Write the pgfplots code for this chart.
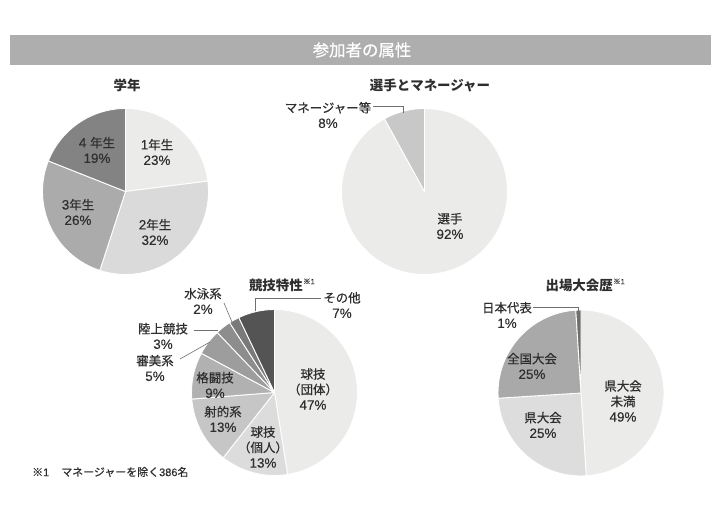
\documentclass[border=0pt]{standalone}
\usepackage{fontspec}
\setmainfont{Noto Sans CJK JP}
\newfontfamily\jplab{Noto Sans CJK JP}[FakeBold=0.5]
\newfontfamily\latlab{Liberation Sans}[FakeBold=0.3]
\usepackage{pgfplots}
\usepackage{pgfplotstable}
\pgfplotsset{compat=1.18}

\definecolor{barbg}{HTML}{ADAEAD}
\definecolor{pA}{HTML}{EBEBEA}
\definecolor{gB}{HTML}{DADADA}
\definecolor{gC}{HTML}{ABABAB}
\definecolor{gD}{HTML}{838383}
\definecolor{mB}{HTML}{C8C8C8}
\definecolor{kB}{HTML}{DCDCDC}
\definecolor{kC}{HTML}{C6C6C6}
\definecolor{kD}{HTML}{B1B1B1}
\definecolor{kE}{HTML}{9D9D9D}
\definecolor{kF}{HTML}{8D8D8D}
\definecolor{kG}{HTML}{7A7A7A}
\definecolor{kH}{HTML}{545454}
\definecolor{sB}{HTML}{DDDDDD}
\definecolor{sC}{HTML}{A9A9A9}
\definecolor{sD}{HTML}{6F6F6F}
\definecolor{leader}{HTML}{707070}
\definecolor{txt}{HTML}{2E2E2E}

% 学年
\pgfplotstableread{
val col
23 pA
32 gB
26 gC
19 gD
}\gakunen
% 選手とマネージャー
\pgfplotstableread{
val col
92 pA
8 mB
}\senshu
% 競技特性
\pgfplotstableread{
val col
47 pA
13 kB
13 kC
9 kD
5 kE
3 kF
2 kG
7 kH
}\kyogi
% 出場大会歴
\pgfplotstableread{
val col
49 pA
25 sB
25 sC
1 sD
}\taikai

\newcommand\drawpie[4]{% table, cx, cy, radius
 \pgfplotsextra{%
  \pgfplotstablegetrowsof{#1}%
  \pgfmathtruncatemacro\pieN{\pgfplotsretval-1}%
  \def\pieTot{0}%
  \pgfplotsforeachungrouped \i in {0,...,\pieN}{%
    \pgfplotstablegetelem{\i}{val}\of{#1}%
    \pgfmathsetmacro\pieTot{\pieTot+\pgfplotsretval}}%
  \def\pieCum{0}%
  \pgfplotsforeachungrouped \i in {0,...,\pieN}{%
    \pgfplotstablegetelem{\i}{val}\of{#1}\let\pieV\pgfplotsretval
    \pgfplotstablegetelem{\i}{col}\of{#1}\let\pieC\pgfplotsretval
    \pgfmathsetmacro\pieA{90-(\pieCum/\pieTot)*360}%
    \pgfmathsetmacro\pieCum{\pieCum+\pieV}%
    \pgfmathsetmacro\pieB{90-(\pieCum/\pieTot)*360}%
    \fill[fill=\pieC, draw=white, line width=0.9pt, line join=round]
      (axis cs:#2,#3) -- ++(\pieA:#4bp) arc[start angle=\pieA, end angle=\pieB, radius=#4bp] -- cycle;
  }%
 }%
}

\tikzset{lab/.style={font=\fontsize{12.5}{15.5}\selectfont\jplab, align=center, text=txt, inner sep=0pt},
         ttl/.style={font=\fontsize{13.5}{16}\selectfont\bfseries, text=txt, inner sep=0pt}}
\newcommand\LN[1]{{\latlab\fontsize{13.5}{15.5}\selectfont #1}}
\newcommand\noteone{\raisebox{0.6ex}{\fontsize{7.5}{8}\selectfont\jplab ※{\latlab 1}}}

\begin{document}
\begin{tikzpicture}
\begin{axis}[hide axis, scale only axis, width=726bp, height=514bp,
  xmin=0, xmax=726, ymin=0, ymax=514, clip=false]
 \path (axis cs:0,0) rectangle (axis cs:726,514);
 % title bar
 \fill[barbg] (axis cs:10,449) rectangle (axis cs:711,479);
 \node[font=\fontsize{16.5}{18}\selectfont\jplab, text=white, inner sep=0pt] at (axis cs:362,464) {参加者の属性};

 % pies
 \drawpie{\gakunen}{125.5}{322.5}{83}
 \drawpie{\senshu}{424.5}{322.5}{83}
 \drawpie{\kyogi}{274.5}{121.5}{83}
 \drawpie{\taikai}{581}{121}{83}

 % leader lines
 \addplot[leader, line width=0.6pt, no markers] coordinates {(373,408) (403,408) (403,401)};
 \addplot[leader, line width=0.6pt, no markers] coordinates {(321,216) (255,216) (255,203)};
 \addplot[leader, line width=0.6pt, no markers] coordinates {(224,211) (232,192)};
 \addplot[leader, line width=0.6pt, no markers] coordinates {(194,184) (218,184)};
 \addplot[leader, line width=0.6pt, no markers] coordinates {(180,155) (210,172)};
 \addplot[leader, line width=0.6pt, no markers] coordinates {(533,207) (578,207) (578,201)};

 % titles
 \node[ttl] at (axis cs:127,429) {学年};
 \node[ttl] at (axis cs:430,429) {選手とマネージャー};
 \node[ttl, anchor=east] at (axis cs:303,229) {競技特性};
 \node[anchor=west, inner sep=0pt, text=txt] at (axis cs:303,231) {\noteone};
 \node[ttl, anchor=east] at (axis cs:613,229) {出場大会歴};
 \node[anchor=west, inner sep=0pt, text=txt] at (axis cs:613,231) {\noteone};

 % labels pie 1
 \node[lab] at (axis cs:157,362) {\LN{1}年生\\\LN{23\%}};
 \node[lab] at (axis cs:155,282) {\LN{2}年生\\\LN{32\%}};
 \node[lab] at (axis cs:78,302) {\LN{3}年生\\\LN{26\%}};
 \node[lab] at (axis cs:97,364) {\LN{4 }年生\\\LN{19\%}};
 % labels pie 2
 \node[lab] at (axis cs:450,288) {選手\\\LN{92\%}};
 \node[lab] at (axis cs:328,399) {マネージャー等\\\LN{8\%}};
 % labels pie 3
 \node[lab] at (axis cs:313,125) {球技\\（団体）\\\LN{47\%}};
 \node[lab] at (axis cs:263,67) {球技\\（個人）\\\LN{13\%}};
 \node[lab] at (axis cs:223,95) {射的系\\\LN{13\%}};
 \node[lab] at (axis cs:215,129) {格闘技\\\LN{9\%}};
 \node[lab] at (axis cs:342,209) {その他\\\LN{7\%}};
 \node[lab] at (axis cs:203,213) {水泳系\\\LN{2\%}};
 \node[lab] at (axis cs:163,178) {陸上競技\\\LN{3\%}};
 \node[lab] at (axis cs:155,146) {審美系\\\LN{5\%}};
 % labels pie 4
 \node[lab] at (axis cs:623,113) {県大会\\未満\\\LN{49\%}};
 \node[lab] at (axis cs:543,89) {県大会\\\LN{25\%}};
 \node[lab] at (axis cs:532,148) {全国大会\\\LN{25\%}};
 \node[lab] at (axis cs:507,199) {日本代表\\\LN{1\%}};

 % footnote
 \node[anchor=west, font=\fontsize{11}{13}\selectfont\jplab, text=txt, inner sep=0pt] at (axis cs:32,42) {※{\latlab 1}\hspace{1.1em}マネージャーを除く{\latlab 386}名};
\end{axis}
\end{tikzpicture}
\end{document}
